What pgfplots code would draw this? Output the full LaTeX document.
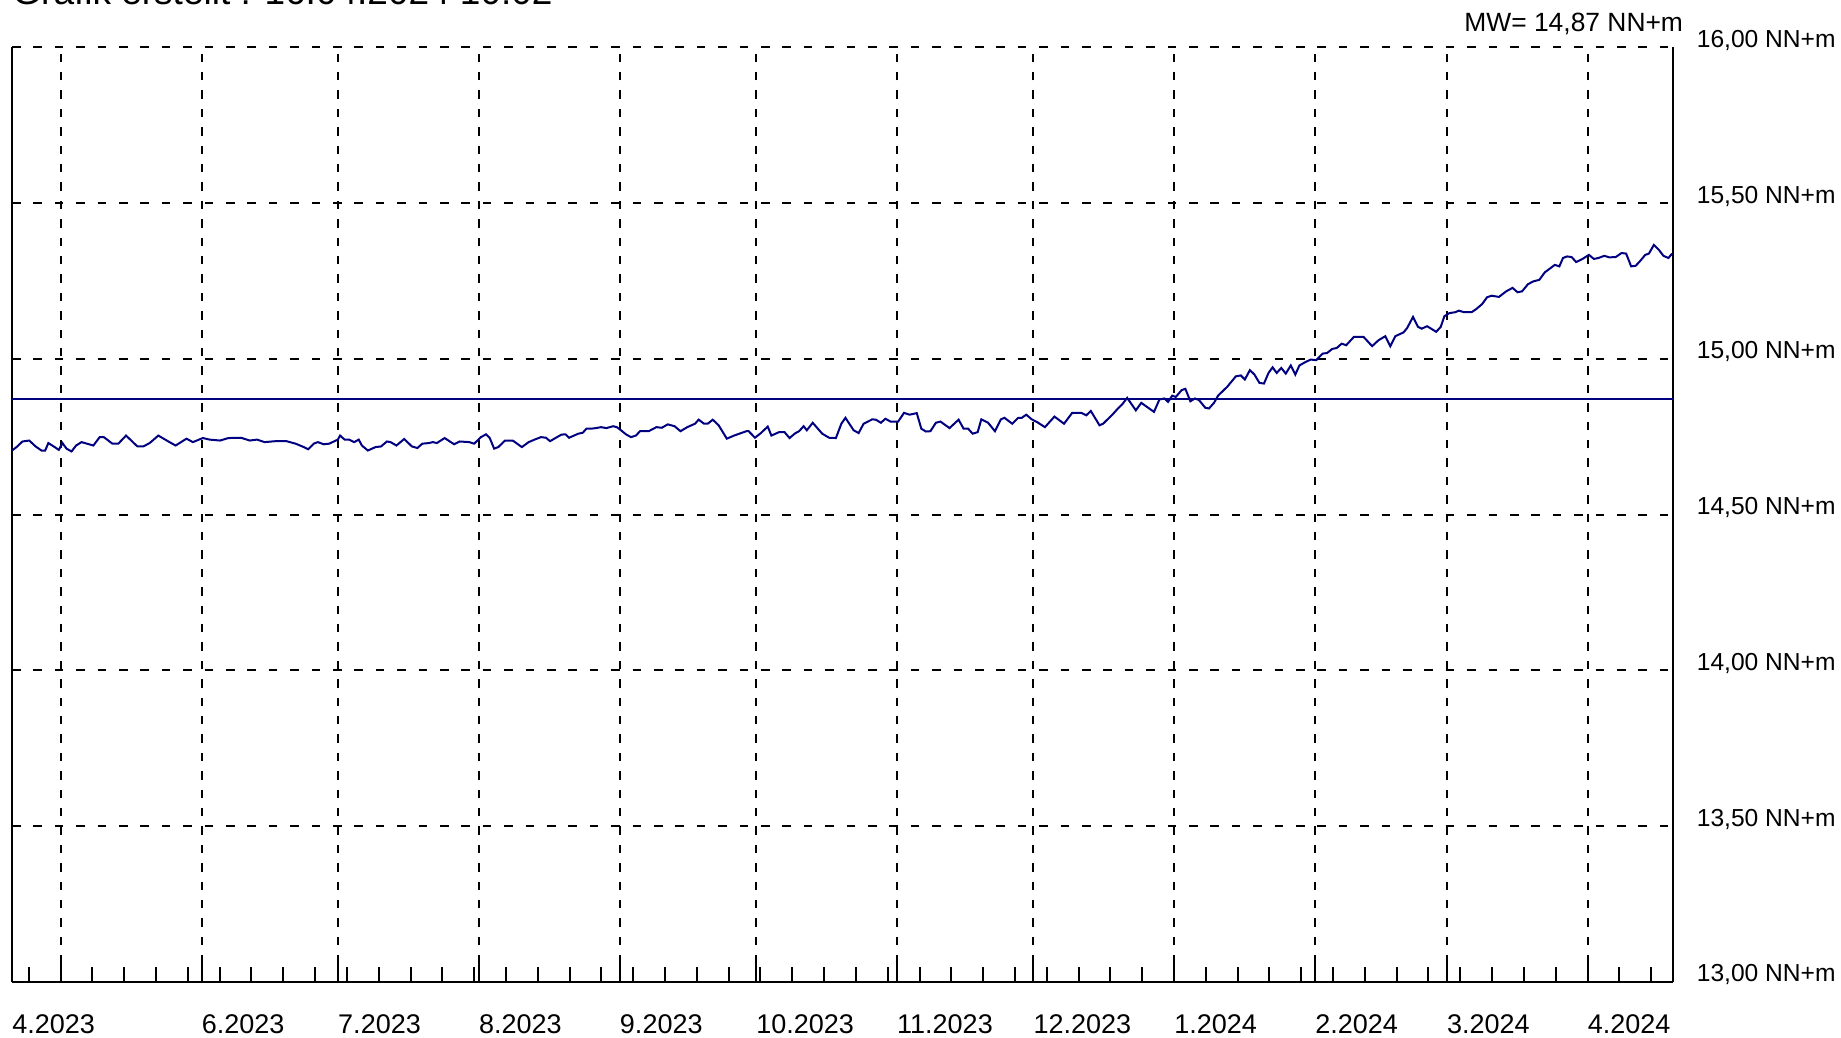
\documentclass[border=0pt]{standalone}
\usepackage{fontspec}
\setmainfont{Liberation Sans}
\usepackage{pgfplots}
\pgfplotsset{compat=1.18}
\definecolor{pegel}{RGB}{0,0,128}

% Wasserstand, Tageswerte (Tag 0 = 01.05.2023)
\pgfplotstableread{
day   lvl
-10.7 14.706
-9.7  14.717
-8.4  14.735
-6.9  14.738
-5.5  14.719
-4.2  14.706
-3.4  14.706
-2.7  14.730
-1.3  14.717
-0.4  14.708
0.4   14.730
1.3   14.712
2.4   14.703
3.4   14.722
4.6   14.733
7.2   14.722
8.6   14.749
9.5   14.749
11.4  14.728
12.7  14.728
14.4  14.754
16.9  14.719
18.2  14.719
19.6  14.730
21.5  14.754
23.6  14.736
25.3  14.722
27.7  14.744
29.1  14.733
31.3  14.746
32.8  14.741
35.1  14.738
36.9  14.746
39.7  14.747
41.6  14.738
43.2  14.741
44.9  14.733
47.3  14.736
49.7  14.736
51.7  14.728
53.2  14.719
54.5  14.710
55.7  14.728
56.6  14.733
57.9  14.726
59.1  14.728
61.0  14.741
61.5  14.754
62.5  14.741
63.5  14.741
64.6  14.733
65.6  14.741
66.3  14.722
67.6  14.706
69.3  14.717
70.5  14.719
71.8  14.735
72.6  14.733
73.9  14.722
75.6  14.743
77.3  14.719
78.5  14.714
79.6  14.728
81.1  14.730
81.9  14.733
82.8  14.730
84.5  14.746
86.6  14.726
87.8  14.735
89.9  14.733
91.0  14.728
92.5  14.749
93.6  14.758
94.4  14.747
95.4  14.712
96.3  14.717
97.8  14.738
99.5  14.738
101.5 14.717
103.0 14.733
104.3 14.741
105.7 14.749
106.8 14.747
107.7 14.736
109.0 14.747
110.2 14.757
111.1 14.758
111.9 14.747
113.9 14.760
114.9 14.763
115.7 14.776
116.7 14.776
117.8 14.778
118.9 14.781
120.1 14.778
121.6 14.784
122.4 14.781
123.3 14.771
124.4 14.758
125.5 14.749
126.6 14.754
127.5 14.768
129.4 14.768
131.1 14.781
132.3 14.779
133.6 14.790
135.1 14.784
136.4 14.768
137.9 14.781
139.6 14.792
140.4 14.805
141.6 14.792
142.4 14.792
143.5 14.805
144.8 14.787
146.6 14.744
148.2 14.754
150.9 14.768
151.4 14.768
152.8 14.747
154.1 14.762
155.6 14.783
156.4 14.754
158.1 14.765
159.3 14.765
160.4 14.746
161.7 14.762
162.5 14.768
163.5 14.784
164.2 14.771
165.5 14.795
167.6 14.760
169.1 14.747
170.6 14.746
171.8 14.792
172.7 14.811
174.5 14.771
175.6 14.762
176.7 14.792
178.6 14.806
179.4 14.805
180.5 14.795
181.5 14.808
182.6 14.799
184.3 14.799
185.6 14.827
186.8 14.821
188.4 14.826
189.4 14.776
190.4 14.767
191.4 14.768
192.6 14.795
193.6 14.799
195.6 14.778
197.6 14.805
198.7 14.776
199.7 14.776
200.7 14.760
201.8 14.765
202.6 14.806
204.1 14.795
205.6 14.768
206.9 14.806
207.7 14.811
209.4 14.792
210.7 14.811
211.5 14.811
212.5 14.821
213.7 14.806
214.9 14.797
216.6 14.781
218.7 14.815
220.8 14.792
222.6 14.827
224.6 14.827
225.7 14.819
226.7 14.833
228.6 14.787
229.4 14.792
231.5 14.822
232.8 14.843
233.6 14.854
234.7 14.875
236.6 14.835
237.8 14.859
240.6 14.830
241.8 14.870
242.9 14.873
243.7 14.862
244.6 14.882
245.4 14.878
246.7 14.900
247.5 14.904
248.6 14.864
249.6 14.873
250.5 14.868
251.9 14.843
252.7 14.841
253.8 14.859
254.7 14.882
256.8 14.912
258.6 14.944
259.7 14.947
260.6 14.934
261.7 14.964
262.7 14.950
263.8 14.923
264.8 14.921
265.8 14.955
266.7 14.973
267.6 14.955
268.6 14.971
269.6 14.953
270.7 14.979
271.7 14.950
272.6 14.979
273.8 14.989
275.1 14.998
276.3 14.996
277.7 15.017
278.7 15.019
279.8 15.032
280.8 15.035
281.9 15.049
282.9 15.044
284.6 15.071
286.7 15.071
288.6 15.041
290.0 15.060
291.5 15.073
292.6 15.041
293.7 15.073
295.5 15.085
296.3 15.099
297.6 15.135
298.7 15.103
299.5 15.097
300.7 15.105
302.7 15.087
303.7 15.103
304.5 15.137
305.6 15.147
306.9 15.150
307.7 15.155
308.8 15.150
310.5 15.150
311.5 15.160
312.8 15.176
313.9 15.198
314.9 15.203
316.5 15.199
318.1 15.217
319.5 15.228
320.6 15.214
321.6 15.217
322.9 15.240
324.1 15.249
325.4 15.254
326.6 15.278
327.9 15.292
328.8 15.302
329.8 15.297
330.6 15.324
331.5 15.329
332.5 15.327
333.5 15.311
334.9 15.321
336.3 15.334
337.4 15.321
338.4 15.324
339.7 15.331
340.8 15.326
342.2 15.327
343.5 15.340
344.5 15.338
345.6 15.297
346.6 15.299
347.5 15.313
348.7 15.334
349.5 15.338
350.6 15.366
351.7 15.350
352.7 15.331
353.8 15.324
354.6 15.338
}\pegel

\begin{document}
\begin{tikzpicture}
\begin{axis}[
    name=ax,
    scale only axis,
    width=830.7pt, height=467.3pt,
    xmin=-10.7, xmax=354.9,
    ymin=13, ymax=16,
    axis x line*=bottom, axis y line*=box,
    axis line style={black, line width=1pt},
    tick align=inside,
    xtick={0,31,61,92,123,153,184,214,245,276,305,336},
    xticklabels={,6.2023,7.2023,8.2023,9.2023,10.2023,11.2023,12.2023,1.2024,2.2024,3.2024,4.2024},
    minor xtick={-7,0,7,...,350},
    extra x ticks={-10.7},
    extra x tick labels={4.2023},
    extra x tick style={grid=none, major tick length=0pt},
    major tick length=11pt, minor tick length=7.3pt,
    every tick/.style={black, line width=1pt},
    xticklabel style={anchor=base west, inner sep=0pt, yshift=-25.5pt,
        font=\fontsize{13.5}{16}\selectfont},
    ytick={13,13.5,...,16},
    yticklabels={{13,00 NN+m},{13,50 NN+m},{14,00 NN+m},{14,50 NN+m},{15,00 NN+m},{15,50 NN+m},{16,00 NN+m}},
    yticklabel pos=right,
    ytick style={draw=none},
    yticklabel style={anchor=base west, inner sep=0pt, xshift=11.5pt,
        font=\fontsize{12.3}{15}\selectfont},
    xmajorgrids, ymajorgrids,
    x grid style={black, line width=1pt, dash pattern=on 4.2pt off 5pt},
    y grid style={black, line width=1pt, dash pattern=on 4.3pt off 6.4pt},
    clip=false,
]
\addplot[pegel, line width=1pt] coordinates {(-10.7,14.87) (354.9,14.87)};
\addplot[pegel, line width=1pt] table[x=day, y=lvl] {\pegel};
\node[anchor=base west, inner sep=0pt, yshift=21.6pt,
      font=\fontsize{18.5}{22}\selectfont] at (rel axis cs:0,1)
      {Grafik erstellt : 16.04.2024 10:02};
\node[anchor=base east, inner sep=0pt, xshift=5pt, yshift=8pt,
      font=\fontsize{13.2}{16}\selectfont] at (rel axis cs:1,1)
      {MW= 14,87 NN+m};
\end{axis}
\pgfresetboundingbox
\path[use as bounding box] ([shift={(-6pt,-28pt)}]ax.south west)
    rectangle ([shift={(83.8pt,23.7pt)}]ax.north east);
\end{tikzpicture}
\end{document}
